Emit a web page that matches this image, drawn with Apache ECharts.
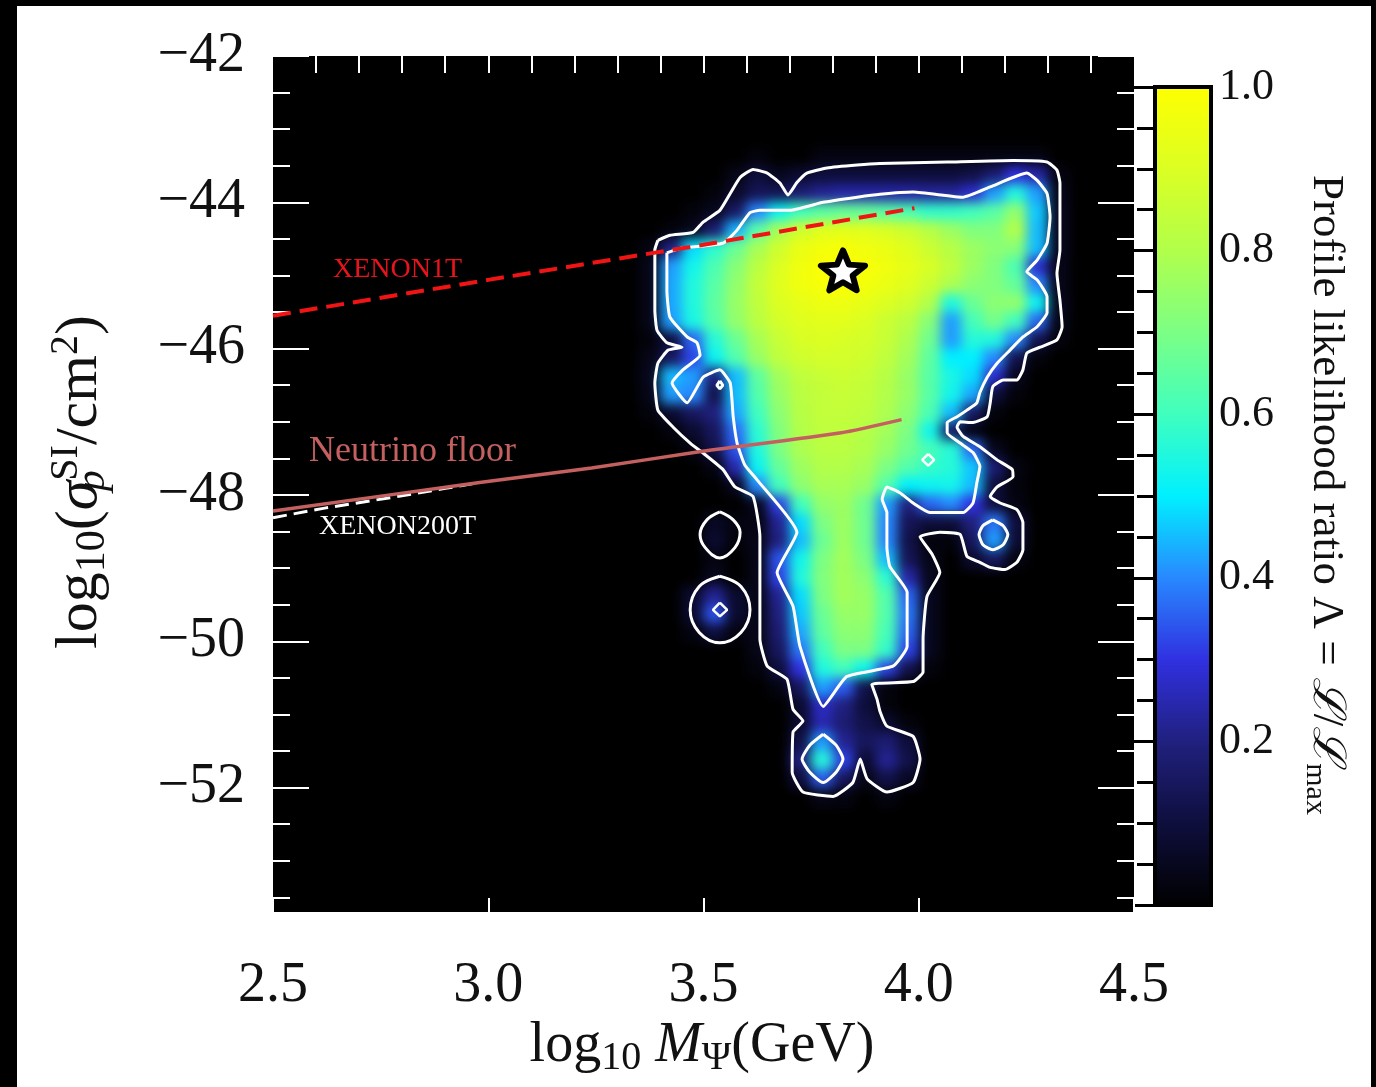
<!DOCTYPE html>
<html><head><meta charset="utf-8">
<script src="https://cdn.jsdelivr.net/npm/echarts@6.0.0/dist/echarts.min.js"></script>
<style>
html,body{margin:0;padding:0;background:#000;width:1376px;height:1087px;overflow:hidden}
#paper{position:absolute;left:17px;top:6px;width:1354px;height:1081px;background:#fff}
#plotbg{position:absolute;left:273px;top:56px;width:861px;height:856px;background:#000;overflow:hidden}
#heat{position:absolute;left:-273px;top:-56px;width:1376px;height:1087px;filter:blur(6px)}
#main{position:absolute;left:0;top:0;width:1376px;height:1087px}
</style></head><body>
<div id="paper"></div>
<div id="plotbg"><div id="heat"></div></div>
<div id="main"></div>
<script>
// ---------------- data ----------------
const xMajorTicks = [2.5, 3.0, 3.5, 4.0, 4.5];
const xMinorTicks = [2.6,2.7,2.8,2.9,3.0,3.1,3.2,3.3,3.4,3.5,3.6,3.7,3.8,3.9,4.0,4.1,4.2,4.3,4.4];
const yMajorTicks = [-52, -50, -48, -46, -44, -42];
const yMinorTicks = [-53.5,-53,-52.5,-52,-51.5,-51,-50.5,-50,-49.5,-49,-48.5,-48,-47.5,-47,-46.5,-46,-45.5,-45,-44.5,-44,-43.5,-43,-42.5];
const cbLabels = [0.2, 0.4, 0.6, 0.8, 1.0];

// colour map of the likelihood ratio (0 -> 1)
const cmapColors = ['#000000','#0e0e3c','#20207e','#3030e0','#2888ff','#00f0ff','#40ffbe','#7cff84','#b2ff4a','#dcff22','#ffff00'];

// grid of the profile likelihood ratio: cell centres
const massGrid = [3.375,3.425,3.475,3.525,3.575,3.625,3.675,3.725,3.775,3.825,3.875,3.925,3.975,4.025,4.075,4.125,4.175,4.225,4.275,4.325];
const sigmaGrid = [-43.375,-43.625,-43.875,-44.125,-44.375,-44.625,-44.875,-45.125,-45.375,-45.625,-45.875,-46.125,-46.375,-46.625,-46.875,-47.125,-47.375,-47.625,-47.875,-48.125,-48.375,-48.625,-48.875,-49.125,-49.375,-49.625,-49.875,-50.125,-50.375,-50.625,-50.875,-51.125,-51.375,-51.625,-51.875,-52.125];
const likelihood = [
[0,0,0,0,0,0.02,0,0,0.03,0.03,0.03,0.03,0.03,0.03,0.03,0.03,0.03,0.03,0.03,0],
[0,0,0,0,0.04,0.1,0.05,0.08,0.1,0.1,0.1,0.1,0.1,0.1,0.1,0.12,0.18,0.3,0.24,0.03],
[0,0,0,0.02,0.07,0.14,0.14,0.18,0.22,0.24,0.24,0.24,0.24,0.23,0.23,0.28,0.42,0.55,0.42,0.04],
[0,0,0.02,0.05,0.16,0.4,0.52,0.6,0.64,0.66,0.66,0.64,0.62,0.58,0.58,0.6,0.64,0.74,0.46,0.05],
[0,0.02,0.05,0.18,0.44,0.64,0.78,0.87,0.91,0.92,0.91,0.89,0.86,0.81,0.76,0.71,0.71,0.8,0.45,0.05],
[0.03,0.2,0.48,0.57,0.67,0.78,0.87,0.94,0.97,0.98,0.96,0.94,0.91,0.86,0.81,0.76,0.73,0.72,0.45,0.05],
[0.04,0.42,0.53,0.62,0.72,0.82,0.9,0.96,0.99,1.0,0.98,0.96,0.93,0.89,0.83,0.76,0.71,0.62,0.28,0.04],
[0.04,0.43,0.55,0.64,0.74,0.84,0.91,0.96,0.98,0.99,0.97,0.94,0.91,0.86,0.79,0.73,0.71,0.66,0.4,0.04],
[0.04,0.43,0.55,0.65,0.75,0.83,0.9,0.93,0.95,0.95,0.93,0.9,0.87,0.8,0.55,0.67,0.73,0.74,0.52,0.05],
[0.04,0.42,0.54,0.64,0.74,0.82,0.88,0.91,0.92,0.92,0.9,0.86,0.82,0.72,0.42,0.61,0.69,0.6,0.36,0.04],
[0.02,0.1,0.36,0.56,0.67,0.78,0.85,0.89,0.9,0.89,0.88,0.85,0.79,0.68,0.42,0.56,0.55,0.4,0.13,0.02],
[0.04,0.15,0.32,0.52,0.63,0.75,0.83,0.87,0.88,0.88,0.87,0.83,0.77,0.65,0.5,0.5,0.4,0.13,0.02,0],
[0.05,0.45,0.42,0.2,0.45,0.65,0.77,0.83,0.85,0.86,0.85,0.81,0.75,0.64,0.54,0.48,0.28,0.05,0,0],
[0.04,0.42,0.4,0.12,0.45,0.63,0.75,0.82,0.84,0.85,0.84,0.8,0.75,0.64,0.53,0.43,0.1,0.02,0,0],
[0.02,0.08,0.15,0.2,0.43,0.6,0.73,0.81,0.84,0.84,0.83,0.79,0.73,0.62,0.45,0.16,0.02,0,0,0],
[0,0.02,0.08,0.15,0.37,0.57,0.71,0.8,0.83,0.83,0.81,0.77,0.7,0.53,0.16,0.03,0,0,0,0],
[0,0,0.03,0.12,0.34,0.55,0.7,0.79,0.82,0.82,0.8,0.75,0.68,0.61,0.56,0.36,0.05,0,0,0],
[0,0,0,0.03,0.25,0.52,0.66,0.76,0.8,0.8,0.78,0.7,0.63,0.58,0.56,0.46,0.18,0.03,0,0],
[0,0,0,0,0.05,0.4,0.6,0.73,0.78,0.78,0.75,0.63,0.5,0.52,0.53,0.45,0.1,0.02,0,0],
[0,0,0,0,0,0.05,0.32,0.6,0.74,0.76,0.68,0.42,0.2,0.36,0.4,0.3,0.1,0.03,0,0],
[0,0,0,0.06,0.03,0.03,0.22,0.48,0.7,0.76,0.68,0.4,0.14,0.1,0.1,0.2,0.38,0.1,0,0],
[0,0,0,0.08,0.02,0.04,0.2,0.45,0.67,0.76,0.68,0.4,0.12,0.02,0.02,0.15,0.42,0.09,0,0],
[0,0,0,0.03,0,0.04,0.34,0.53,0.7,0.77,0.7,0.45,0.14,0.04,0,0.08,0.15,0.03,0,0],
[0,0,0,0.05,0,0.04,0.32,0.55,0.71,0.77,0.73,0.57,0.24,0.05,0,0,0,0,0,0],
[0,0,0.08,0.22,0.08,0.04,0.22,0.48,0.7,0.77,0.75,0.63,0.36,0.05,0,0,0,0,0,0],
[0,0,0.08,0.34,0.08,0.04,0.2,0.46,0.67,0.75,0.75,0.63,0.38,0.05,0,0,0,0,0,0],
[0,0,0.03,0.1,0.03,0.04,0.18,0.43,0.65,0.73,0.73,0.61,0.36,0.05,0,0,0,0,0,0],
[0,0,0,0,0,0.04,0.15,0.38,0.6,0.7,0.7,0.58,0.32,0.05,0,0,0,0,0,0],
[0,0,0,0,0,0.02,0.1,0.3,0.55,0.6,0.52,0.32,0.12,0.02,0,0,0,0,0,0],
[0,0,0,0,0,0,0.03,0.15,0.42,0.35,0.12,0.02,0,0,0,0,0,0,0,0],
[0,0,0,0,0,0,0,0.08,0.27,0.2,0.1,0.02,0,0,0,0,0,0,0,0],
[0,0,0,0,0,0,0,0.08,0.25,0.18,0.12,0.08,0.02,0,0,0,0,0,0,0],
[0,0,0,0,0,0,0,0.12,0.42,0.22,0.15,0.18,0.1,0,0,0,0,0,0,0],
[0,0,0,0,0,0,0,0.2,0.56,0.32,0.08,0.22,0.12,0,0,0,0,0,0,0],
[0,0,0,0,0,0,0,0.1,0.35,0.15,0.04,0.12,0.06,0,0,0,0,0,0,0],
[0,0,0,0,0,0,0,0,0.04,0.03,0,0.03,0,0,0,0,0,0,0,0]
];

// contour lines (log10 M, log10 sigma)
const contourOuter = [[3.394,-44.52],[3.422,-44.45],[3.476,-44.41],[3.499,-44.27],[3.538,-44.11],[3.562,-43.88],[3.585,-43.66],[3.615,-43.55],[3.648,-43.60],[3.678,-43.74],[3.696,-43.90],[3.717,-43.73],[3.740,-43.60],[3.787,-43.53],[3.857,-43.49],[3.910,-43.47],[4.066,-43.45],[4.219,-43.43],[4.298,-43.45],[4.321,-43.56],[4.328,-43.74],[4.328,-44.65],[4.321,-44.97],[4.328,-45.34],[4.333,-45.70],[4.321,-45.88],[4.282,-45.98],[4.251,-46.06],[4.242,-46.29],[4.228,-46.43],[4.196,-46.43],[4.172,-46.52],[4.166,-46.74],[4.159,-46.93],[4.126,-47.01],[4.096,-47.00],[4.089,-47.07],[4.103,-47.20],[4.142,-47.34],[4.182,-47.52],[4.217,-47.65],[4.219,-47.75],[4.182,-47.89],[4.166,-48.02],[4.189,-48.11],[4.228,-48.20],[4.242,-48.38],[4.242,-48.75],[4.228,-48.92],[4.200,-49.02],[4.166,-48.99],[4.142,-48.92],[4.112,-48.84],[4.096,-48.54],[4.049,-48.51],[4.003,-48.57],[4.031,-48.81],[4.049,-49.06],[4.019,-49.39],[4.010,-49.97],[4.010,-50.42],[3.987,-50.55],[3.891,-50.59],[3.903,-50.79],[3.910,-50.96],[3.926,-51.16],[3.987,-51.30],[4.003,-51.61],[3.987,-51.93],[3.926,-52.06],[3.880,-51.88],[3.864,-51.61],[3.847,-51.93],[3.801,-52.12],[3.731,-52.06],[3.706,-51.79],[3.708,-51.24],[3.731,-51.09],[3.708,-50.93],[3.694,-50.52],[3.648,-50.34],[3.631,-49.97],[3.631,-48.84],[3.631,-48.57],[3.615,-48.02],[3.573,-47.89],[3.545,-47.65],[3.504,-47.45],[3.469,-47.29],[3.429,-47.07],[3.394,-46.84],[3.387,-46.47],[3.394,-46.20],[3.418,-46.02],[3.450,-45.98],[3.415,-45.92],[3.392,-45.75],[3.387,-45.47],[3.387,-44.65],[3.394,-44.52]];
const contourInner = [[3.415,-44.69],[3.445,-44.63],[3.545,-44.56],[3.578,-44.38],[3.608,-44.14],[3.631,-44.11],[3.701,-44.11],[3.778,-44.00],[3.857,-43.93],[3.910,-43.89],[3.987,-43.86],[4.103,-43.93],[4.166,-43.79],[4.251,-43.60],[4.275,-43.70],[4.298,-43.88],[4.305,-44.20],[4.298,-44.56],[4.275,-44.79],[4.251,-44.95],[4.275,-45.06],[4.298,-45.29],[4.298,-45.51],[4.275,-45.70],[4.242,-45.84],[4.212,-46.02],[4.182,-46.20],[4.159,-46.39],[4.142,-46.60],[4.135,-46.74],[4.112,-46.84],[4.089,-46.93],[4.066,-47.01],[4.066,-47.15],[4.096,-47.29],[4.126,-47.42],[4.142,-47.61],[4.135,-47.83],[4.126,-48.11],[4.103,-48.24],[4.026,-48.24],[3.987,-48.11],[3.956,-47.97],[3.926,-47.89],[3.915,-48.06],[3.926,-48.24],[3.926,-48.71],[3.933,-48.98],[3.973,-49.33],[3.973,-50.07],[3.940,-50.34],[3.833,-50.48],[3.778,-50.89],[3.724,-50.07],[3.708,-49.52],[3.671,-49.06],[3.717,-48.51],[3.624,-47.79],[3.596,-47.59],[3.578,-47.29],[3.569,-46.93],[3.562,-46.47],[3.538,-46.29],[3.499,-46.39],[3.462,-46.74],[3.427,-46.47],[3.452,-46.29],[3.492,-46.09],[3.485,-45.92],[3.462,-45.84],[3.422,-45.57],[3.415,-45.20],[3.415,-44.69]];
const islandA = [[3.538,-48.23],[3.569,-48.34],[3.585,-48.51],[3.573,-48.72],[3.538,-48.86],[3.504,-48.72],[3.492,-48.54],[3.508,-48.34],[3.538,-48.23]];
const islandB = [[3.538,-49.11],[3.587,-49.25],[3.608,-49.57],[3.587,-49.88],[3.538,-50.02],[3.490,-49.88],[3.469,-49.57],[3.490,-49.25],[3.538,-49.11]];
const islandBCore = [[3.538,-49.47],[3.555,-49.57],[3.538,-49.66],[3.522,-49.57],[3.538,-49.47]];
const lobeCore = [[3.778,-51.27],[3.808,-51.42],[3.824,-51.61],[3.808,-51.79],[3.778,-51.93],[3.747,-51.79],[3.729,-51.61],[3.747,-51.42],[3.778,-51.27]];
const rightLobeCore = [[4.172,-48.34],[4.196,-48.42],[4.207,-48.54],[4.196,-48.68],[4.172,-48.75],[4.149,-48.68],[4.140,-48.54],[4.149,-48.42],[4.172,-48.34]];
const smallHole = [[4.022,-47.44],[4.036,-47.52],[4.022,-47.60],[4.008,-47.52],[4.022,-47.44]];
const tinyHole = [[3.538,-46.44],[3.545,-46.50],[3.538,-46.55],[3.531,-46.50],[3.538,-46.44]];

// experimental limits
const xenon1T = [[2.5,-45.55],[3.0,-45.06],[3.5,-44.58],[3.99,-44.08]];
const neutrinoFloor = [[2.5,-48.22],[2.98,-47.83],[3.24,-47.63],[3.49,-47.41],[3.82,-47.15],[3.96,-46.97]];
const xenon200T = [[2.5,-48.31],[2.62,-48.18],[2.78,-48.03],[2.9,-47.91],[2.98,-47.83]];
const bestFit = [[3.824,-44.93]];

// ---------------- style ----------------
const CELL_W = 0.05, CELL_H = 0.25;
const FONT = '"Liberation Serif", "DejaVu Serif", serif';
const INK = '#111';
const GRID = {left:273, top:56, width:861, height:856};
const X_RANGE = {min:2.5, max:4.5};
const Y_RANGE = {min:-53.7, max:-42};

const heatData = [];
sigmaGrid.forEach((s, j) => massGrid.forEach((m, i) => {
  const v = likelihood[j][i];
  if (v > 0) heatData.push([m, s, v]);
}));

// ---------- heat layer (blurred for smooth shading) ----------
const heat = echarts.init(document.getElementById('heat'), null, {renderer:'canvas'});
heat.setOption({
  animation:false,
  backgroundColor:'transparent',
  grid:Object.assign({show:true, backgroundColor:'#000', borderWidth:0}, GRID),
  xAxis:Object.assign({type:'value', show:false}, X_RANGE),
  yAxis:Object.assign({type:'value', show:false}, Y_RANGE),
  visualMap:{type:'continuous', show:false, min:0, max:1, dimension:2, seriesIndex:0, inRange:{color:cmapColors}},
  series:[{
    type:'custom', data:heatData, encode:{x:0, y:1},
    renderItem:(params, api) => {
      const m = api.value(0), s = api.value(1);
      const a = api.coord([m - CELL_W/2, s + CELL_H/2]);
      const b = api.coord([m + CELL_W/2, s - CELL_H/2]);
      return {type:'rect', shape:{x:a[0], y:a[1], width:b[0]-a[0]+0.6, height:b[1]-a[1]+0.6}, style:{fill:api.visual('color')}};
    }
  }]
});

// ---------- main layer ----------
const cbGradient = new echarts.graphic.LinearGradient(0, 1, 0, 0,
  cmapColors.map((c, i) => ({offset:i/(cmapColors.length-1), color:c})));

const whiteTick = {color:'#fff', width:2};
function yAx(pos, ticks, len, labels) {
  return Object.assign({gridIndex:0, type:'value', position:pos, axisLine:{show:false}, splitLine:{show:false},
    axisTick:{inside:true, length:len, customValues:ticks, lineStyle:whiteTick},
    axisLabel: labels ? {customValues:labels, formatter:v => '\u2212' + Math.abs(v), fontSize:56, fontFamily:FONT, color:INK, margin:28} : {show:false}
  }, Y_RANGE);
}
function contour(data, w, sm) {
  return {type:'line', xAxisIndex:0, yAxisIndex:0, data:data, symbol:'none', smooth:sm, silent:true,
    lineStyle:{color:'#fff', width:w}, z:3};
}
const STAR = 'path://M50,0L62.93,32.2L97.55,34.55L70.92,56.8L79.39,90.45L50,72L20.61,90.45L29.08,56.8L2.45,34.55L37.07,32.2Z';

const main = echarts.init(document.getElementById('main'), null, {renderer:'canvas'});
main.setOption({
  animation:false,
  backgroundColor:'transparent',
  grid:[
    Object.assign({show:false}, GRID),
    {left:1155, top:87, width:56, height:818, show:true, backgroundColor:cbGradient, borderColor:'#000', borderWidth:4}
  ],
  xAxis:[
    Object.assign({gridIndex:0, type:'value', position:'bottom', axisLine:{show:false}, splitLine:{show:false},
      axisTick:{inside:true, length:14, customValues:xMajorTicks, lineStyle:whiteTick},
      axisLabel:{customValues:xMajorTicks, formatter:v => v.toFixed(1), fontSize:56, fontFamily:FONT, color:INK, margin:46}}, X_RANGE),
    Object.assign({gridIndex:0, type:'value', position:'top', axisLine:{show:false}, splitLine:{show:false},
      axisTick:{inside:true, length:17, customValues:xMinorTicks, lineStyle:whiteTick}, axisLabel:{show:false}}, X_RANGE),
    {gridIndex:1, type:'value', min:0, max:1, show:false}
  ],
  yAxis:[
    yAx('left', yMajorTicks, 36, yMajorTicks),
    yAx('left', yMinorTicks, 17, null),
    yAx('right', yMajorTicks, 36, null),
    yAx('right', yMinorTicks, 17, null),
    {gridIndex:1, type:'value', position:'right', min:0, max:1, interval:0.2,
      axisLine:{show:false}, splitLine:{show:false},
      axisTick:{inside:true, length:38, lineStyle:{color:'#000', width:3}},
      minorTick:{show:true, splitNumber:4, length:18, lineStyle:{color:'#000', width:3}},
      axisLabel:{customValues:cbLabels, formatter:v => v.toFixed(1), fontSize:44, fontFamily:FONT, color:INK, margin:8}}
  ],
  series:[
    contour(contourOuter, 3, 0.15),
    contour(contourInner, 3, 0.15),
    contour(islandA, 3, 0.4),
    contour(islandB, 3, 0.4),
    contour(islandBCore, 2.5, 0),
    contour(lobeCore, 3, 0.2),
    contour(rightLobeCore, 3, 0.2),
    contour(smallHole, 2.5, 0),
    contour(tinyHole, 3, 0),
    {type:'line', xAxisIndex:0, yAxisIndex:0, data:xenon200T, symbol:'none', silent:true,
      lineStyle:{color:'#fff', width:3, type:[14, 7]}, z:4},
    {type:'line', xAxisIndex:0, yAxisIndex:0, data:neutrinoFloor, symbol:'none', silent:true, smooth:0.2,
      lineStyle:{color:'#c46060', width:3.5}, z:5},
    {type:'line', xAxisIndex:0, yAxisIndex:0, data:xenon1T, symbol:'none', silent:true,
      lineStyle:{color:'#f01414', width:4, type:[18, 9]}, z:5},
    {type:'scatter', xAxisIndex:0, yAxisIndex:0, data:bestFit, symbol:STAR, symbolSize:[44, 42], symbolKeepAspect:true,
      itemStyle:{color:'#ffffff', opacity:1, borderColor:'#000', borderWidth:6, borderJoin:'round'}, z:6, silent:true}
  ],
  graphic:[
    {type:'text', x:333, y:270, z:10, style:{text:'XENON1T', fill:'#e8141c', fontSize:28, fontFamily:FONT, align:'left', verticalAlign:'middle'}},
    {type:'text', x:309, y:452, z:10, style:{text:'Neutrino floor', fill:'#c46060', fontSize:36, fontFamily:FONT, align:'left', verticalAlign:'middle'}},
    {type:'text', x:319, y:527, z:10, style:{text:'XENON200T', fill:'#ffffff', fontSize:28, fontFamily:FONT, align:'left', verticalAlign:'middle'}},
    {type:'text', x:702, y:1046, z:10, style:{
      text:'{a|log}{s|10}{a| }{i|M}{s|Ψ}{a|(GeV)}', align:'center', verticalAlign:'middle',
      rich:{
        a:{fontSize:56, fontFamily:FONT, fill:INK, lineHeight:64},
        i:{fontSize:56, fontFamily:FONT, fontStyle:'italic', fill:INK, lineHeight:64},
        s:{fontSize:40, fontFamily:FONT, fill:INK, lineHeight:22, verticalAlign:'bottom'}
      }}},
    {type:'text', x:80, y:482, rotation:Math.PI/2, z:10, style:{
      text:'{a|log}{s|10}{a|(}{i|σ}{si|p}{u|SI}{a|/cm}{u|2}{a|)}', align:'center', verticalAlign:'middle',
      rich:{
        a:{fontSize:60, fontFamily:FONT, fill:INK, lineHeight:68},
        i:{fontSize:60, fontFamily:FONT, fontStyle:'italic', fill:INK, lineHeight:68},
        s:{fontSize:42, fontFamily:FONT, fill:INK, lineHeight:24, verticalAlign:'bottom'},
        si:{fontSize:42, fontFamily:FONT, fontStyle:'italic', fill:INK, lineHeight:24, verticalAlign:'bottom', width:0, align:'left'},
        u:{fontSize:40, fontFamily:FONT, fill:INK, lineHeight:42, verticalAlign:'top'}
      }}},
    {type:'text', x:1326, y:495, rotation:-Math.PI/2, z:10, style:{
      text:'{a|Profile likelihood ratio Λ = }{i|ℒ}{a|/}{i|ℒ}{s|max}', align:'center', verticalAlign:'middle',
      rich:{
        a:{fontSize:45, fontFamily:FONT, fill:INK, lineHeight:52},
        i:{fontSize:45, fontFamily:FONT, fontStyle:'italic', fill:INK, lineHeight:52},
        s:{fontSize:30, fontFamily:FONT, fill:INK, lineHeight:20, verticalAlign:'bottom'}
      }}}
  ]
});
</script></body></html>
